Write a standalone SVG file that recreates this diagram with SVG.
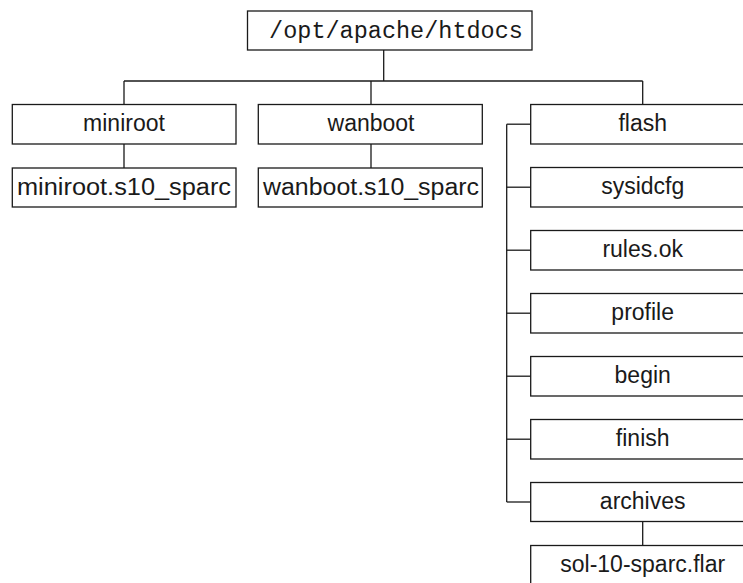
<svg xmlns="http://www.w3.org/2000/svg" width="743" height="583" viewBox="0 0 743 583">
<style>
.n rect{fill:#fff;stroke:#1a1a1a;stroke-width:1.3}
.c line{stroke:#1a1a1a;stroke-width:1.3;fill:none}
text{font-family:"Liberation Sans",Arial,sans-serif;font-size:23px;fill:#1a1a1a;text-anchor:middle}
.mono{font-family:"Liberation Mono","Courier New",monospace;font-size:23.5px}
</style>
<rect width="743" height="583" fill="#fff"/>
<g class="c">
<line x1="383.7" y1="50" x2="383.7" y2="81"/>
<line x1="124" y1="81" x2="642.7" y2="81"/>
<line x1="124" y1="81" x2="124" y2="104.5"/>
<line x1="371" y1="81" x2="371" y2="104.5"/>
<line x1="642.7" y1="81" x2="642.7" y2="104.5"/>
<line x1="124" y1="144" x2="124" y2="168"/>
<line x1="371" y1="144" x2="371" y2="168"/>
<line x1="506.7" y1="124.2" x2="506.7" y2="502"/>
<line x1="506.7" y1="124.2" x2="530.7" y2="124.2"/>
<line x1="506.7" y1="187.2" x2="530.7" y2="187.2"/>
<line x1="506.7" y1="250.2" x2="530.7" y2="250.2"/>
<line x1="506.7" y1="313.2" x2="530.7" y2="313.2"/>
<line x1="506.7" y1="376.2" x2="530.7" y2="376.2"/>
<line x1="506.7" y1="439.2" x2="530.7" y2="439.2"/>
<line x1="506.7" y1="502" x2="530.7" y2="502"/>
<line x1="642.7" y1="521.5" x2="642.7" y2="545.5"/>
</g>
<g class="n">
<g id="root"><rect x="247.5" y="11" width="284.5" height="39"/><text class="mono" x="396" y="38">/opt/apache/htdocs</text></g>
<g id="miniroot"><rect x="12.3" y="104.5" width="223.7" height="39.5"/><text x="124" y="131">miniroot</text></g>
<g id="miniroot-s10"><rect x="12.3" y="168" width="223.7" height="39"/><text x="124" y="195" textLength="214" lengthAdjust="spacingAndGlyphs">miniroot.s10_sparc</text></g>
<g id="wanboot"><rect x="258.3" y="104.5" width="224" height="39.5"/><text x="371" y="131">wanboot</text></g>
<g id="wanboot-s10"><rect x="258.3" y="168" width="224" height="39"/><text x="371" y="195" textLength="216" lengthAdjust="spacingAndGlyphs">wanboot.s10_sparc</text></g>
<g id="flash"><rect x="530.7" y="104.5" width="224" height="39.5"/><text x="642.7" y="131">flash</text></g>
<g id="sysidcfg"><rect x="530.7" y="167.5" width="224" height="39.5"/><text x="642.7" y="194">sysidcfg</text></g>
<g id="rules"><rect x="530.7" y="230.5" width="224" height="39.5"/><text x="642.7" y="257">rules.ok</text></g>
<g id="profile"><rect x="530.7" y="293.5" width="224" height="39.5"/><text x="642.7" y="320">profile</text></g>
<g id="begin"><rect x="530.7" y="356.5" width="224" height="39.5"/><text x="642.7" y="383">begin</text></g>
<g id="finish"><rect x="530.7" y="419.5" width="224" height="39.5"/><text x="642.7" y="446">finish</text></g>
<g id="archives"><rect x="530.7" y="482.5" width="224" height="39"/><text x="642.7" y="509">archives</text></g>
<g id="flar"><rect x="530.7" y="545.5" width="224" height="50"/><text x="642.7" y="572">sol-10-sparc.flar</text></g>
</g>
</svg>
